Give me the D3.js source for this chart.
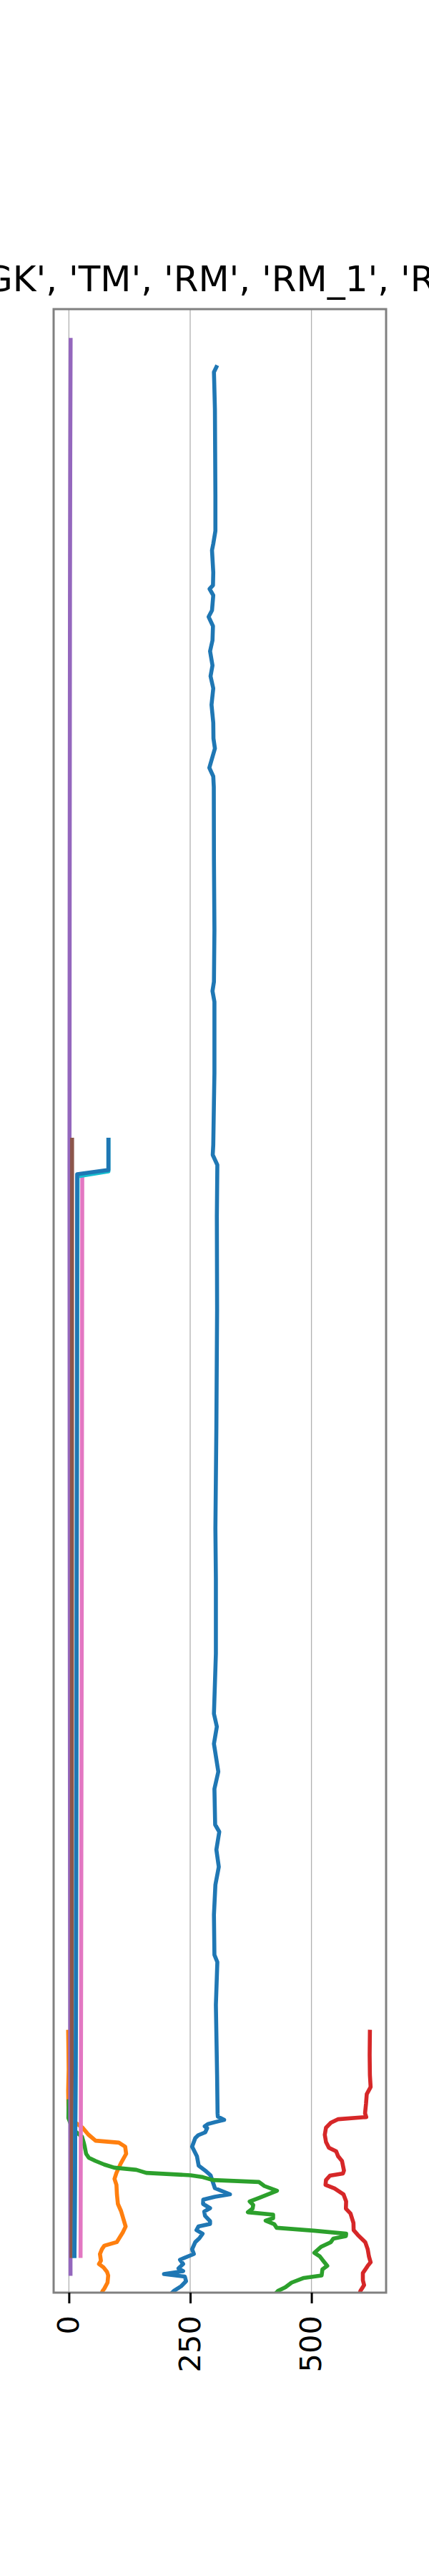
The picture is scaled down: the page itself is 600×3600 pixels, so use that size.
<!DOCTYPE html>
<html>
<head>
<meta charset="utf-8">
<script src="https://cdn.jsdelivr.net/npm/d3@7"></script>
<style>
html, body { margin: 0; padding: 0; background: #ffffff; }
svg { display: block; }
</style>
</head>
<body>
<svg id="chart" width="600" height="3600"></svg>
<script>
// ---------------- DATA ----------------
const columnNames = ['DEPT', 'PS', 'KS', 'GK', 'TM', 'RM', 'RM_1', 'RM_2', 'IK', 'BK', 'NK'];
const xTickValues = [0, 250, 500];
const xTickLabels = ['0', '250', '500'];

// each series: [depth index, value]
const seriesDEPT = [[40.5,304],[44,299],[50,299.5],[70,301],[100,301.5],[130,302],[155,302],[164,297.6],[168.5,295],[184,297.6],[193,297],[195.5,290],[200,297.6],[210.5,295],[215,288],[221.5,297],[231.5,296],[239,291],[249,296],[256.5,292],[265,297.6],[276.5,294],[289,297.6],[300,298],[307,301],[320.5,289.5],[326.5,297.6],[334,298.7],[384,299],[434,300],[470,299],[476.5,296],[484,300],[534,300],[554,299],[584,297.6],[591,296.5],[598,306],[634,305],[699,305.5],[781.5,304],[852,302],[887,303],[939.5,303],[960.5,301],[981.5,299],[990.5,305],[1002.5,299],[1022,308],[1034,300],[1059,301.5],[1064,310],[1076.5,304],[1088.5,309],[1101,302],[1122,299],[1150,300],[1155,306],[1185,303],[1234,305.5],[1260.7,306.5],[1263,307],[1265.3,320],[1266.8,301.6],[1268.2,286.4],[1269.8,280],[1271,285],[1274,281],[1276,266.5],[1278,260.5],[1284,254],[1290.7,264],[1297.3,267.5],[1300.7,281],[1304,292],[1308,296],[1313,301],[1317.3,332],[1319,301],[1321,277],[1324,276.6],[1327,291],[1329.3,279],[1332.3,280.6],[1336,291],[1338,291],[1339.8,267],[1342.3,263],[1344.8,275.6],[1348,269],[1350.7,260.5],[1355.7,254],[1359,257.6],[1363,229],[1366,235.5],[1369,226],[1371,235.5],[1373,196],[1374.8,239],[1378,241.5],[1381.5,231.4],[1384.8,216.3],[1387,210]];
const seriesPS = [[1203.7,-1.5],[1215,-1],[1230,-0.5],[1245,-1.5],[1255,-1],[1264,0],[1270.7,28],[1275.5,40],[1279.8,55],[1281.2,103],[1284,116],[1289,118],[1295.7,107],[1302.3,98],[1306.5,94],[1310.7,98],[1317.3,99],[1324,101],[1329,107.5],[1339.8,117],[1344,111],[1350.7,98.6],[1353.2,73],[1355.7,68],[1359,64],[1363.7,66],[1366,62],[1368.2,71],[1371.5,78.6],[1374,81],[1379,79.6],[1383.2,73],[1384.8,69.5],[1387,67]];
const seriesKS = [[1252.3,-0.5],[1264,-1],[1272,8],[1277,27],[1281.7,31],[1284,32.6],[1289,35.5],[1291.7,41],[1294,55],[1296.5,73],[1298.7,93.6],[1300.2,139],[1302.3,159.5],[1304,251],[1305.3,276],[1307.3,296.6],[1308.7,392],[1311.5,403],[1314.8,429],[1319.8,392],[1322.3,372.6],[1324.8,380],[1327.3,378.7],[1329.8,369],[1331.5,421],[1334,421],[1335.7,405.5],[1338.2,423.4],[1340.7,428.3],[1342.7,504.6],[1344.8,571.6],[1346.5,571],[1348.2,545.2],[1350.7,540],[1354,519.7],[1358.2,506],[1360.7,517.3],[1364,524.8],[1367.3,532.6],[1369.8,522.6],[1374,521],[1375.7,484.4],[1379,459],[1382.3,446.2],[1384.8,431],[1387,425]];
const seriesGK = [[1203.7,620.5],[1220,620],[1234,620.5],[1242.3,622],[1247.3,614],[1254,612.5],[1260.7,610.5],[1263.3,613],[1264.8,555.3],[1267.3,540],[1270.7,530],[1275.7,527.5],[1280.7,530],[1284.8,536],[1287.3,551],[1290.7,555],[1294,563],[1300.7,567],[1302.7,565],[1304.3,538],[1307.3,530],[1310.7,529],[1313.2,547.6],[1317.3,566],[1322.3,571.5],[1327.3,571],[1330.7,580.5],[1337.3,586.6],[1342.3,587],[1345.7,595.7],[1350.7,610.9],[1355.7,616],[1360.7,618.5],[1364.8,622],[1367.3,616],[1372.3,606],[1377.3,606],[1380.7,608.5],[1384.8,601],[1387,599]];
const seriesTM = [[21.5,3.5],[100,2.8],[200,2.2],[400,1.6],[600,1.2],[800,1.5],[1000,2],[1200,2.6],[1300,3],[1372.8,3.3]];
const seriesRM = [[580.4,6.5],[900,6.2],[1200,6.2],[1360.4,5.5]];
const seriesRM1 = [[606.5,27.5],[900,26.5],[1200,25],[1360.4,24]];
const seriesBK = [[580.4,81.5],[602.5,81.5],[606,18],[900,16],[1200,14.5],[1360.4,11.5]];
const seriesNK = [[580.4,81.5],[601.5,81.5],[604.5,17],[900,16],[1200,14.5],[1360.4,11.5]];

const seriesList = [
  {data: seriesDEPT, color: '#1f77b4'},
  {data: seriesPS,   color: '#ff7f0e'},
  {data: seriesKS,   color: '#2ca02c'},
  {data: seriesGK,   color: '#d62728'},
  {data: seriesTM,   color: '#9467bd'},
  {data: seriesRM,   color: '#8c564b'},
  {data: seriesRM1,  color: '#e377c2'},
  {data: seriesBK,   color: '#17becf'},
  {data: seriesNK,   color: '#1f77b4'}
];

// ---------------- LAYOUT ----------------
const figW = 600, figH = 3600;
const axLeft = 75, axRight = 540, axTop = 432, axBottom = 3204;

const x = d3.scaleLinear().domain([-31.5, 653.9]).range([axLeft, axRight]);
const y = d3.scaleLinear().domain([0, 1386]).range([axTop, axBottom]);

const svg = d3.select('#chart');
svg.append('rect').attr('width', figW).attr('height', figH).attr('fill', '#ffffff');

svg.append('defs').append('clipPath').attr('id', 'clip')
  .append('rect').attr('x', axLeft).attr('y', axTop)
  .attr('width', axRight - axLeft).attr('height', axBottom - axTop);

// grid
svg.append('g').selectAll('line').data(xTickValues).join('line')
  .attr('x1', d => x(d)).attr('x2', d => x(d))
  .attr('y1', axTop).attr('y2', axBottom)
  .attr('stroke', '#b0b0b0').attr('stroke-width', 1.3);

// lines
const line = d3.line().x(d => x(d[1])).y(d => y(d[0]));
const gLines = svg.append('g').attr('clip-path', 'url(#clip)');
seriesList.forEach(s => {
  gLines.append('path').datum(s.data)
    .attr('d', line)
    .attr('fill', 'none')
    .attr('stroke', s.color)
    .attr('stroke-width', 5.6)
    .attr('stroke-linejoin', 'round')
    .attr('stroke-linecap', 'square');
});

// frame
svg.append('rect').attr('x', axLeft).attr('y', axTop)
  .attr('width', axRight - axLeft).attr('height', axBottom - axTop)
  .attr('fill', 'none').attr('stroke', '#808080').attr('stroke-width', 3);

// x axis
const xAxis = d3.axisBottom(x).tickValues(xTickValues)
  .tickFormat((d, i) => xTickLabels[i]).tickSize(15).tickPadding(0);
const gx = svg.append('g').attr('transform', `translate(0,${axBottom})`).call(xAxis);
gx.select('.domain').remove();
gx.selectAll('.tick line').attr('stroke', '#000').attr('stroke-width', 3);
gx.selectAll('.tick text')
  .attr('transform', 'rotate(-90)')
  .attr('x', -32).attr('y', 0).attr('dy', '0.32em')
  .attr('text-anchor', 'end')
  .attr('fill', '#000')
  .style('font-family', '"DejaVu Sans", sans-serif')
  .style('font-size', '41.7px');

// title
svg.append('text')
  .attr('x', (axLeft + axRight) / 2).attr('y', 406.7)
  .attr('text-anchor', 'middle')
  .style('font-family', '"DejaVu Sans", sans-serif')
  .style('font-size', '50px')
  .attr('fill', '#000')
  .text('[' + columnNames.map(n => "'" + n + "'").join(', ') + ']');
</script>
</body>
</html>
